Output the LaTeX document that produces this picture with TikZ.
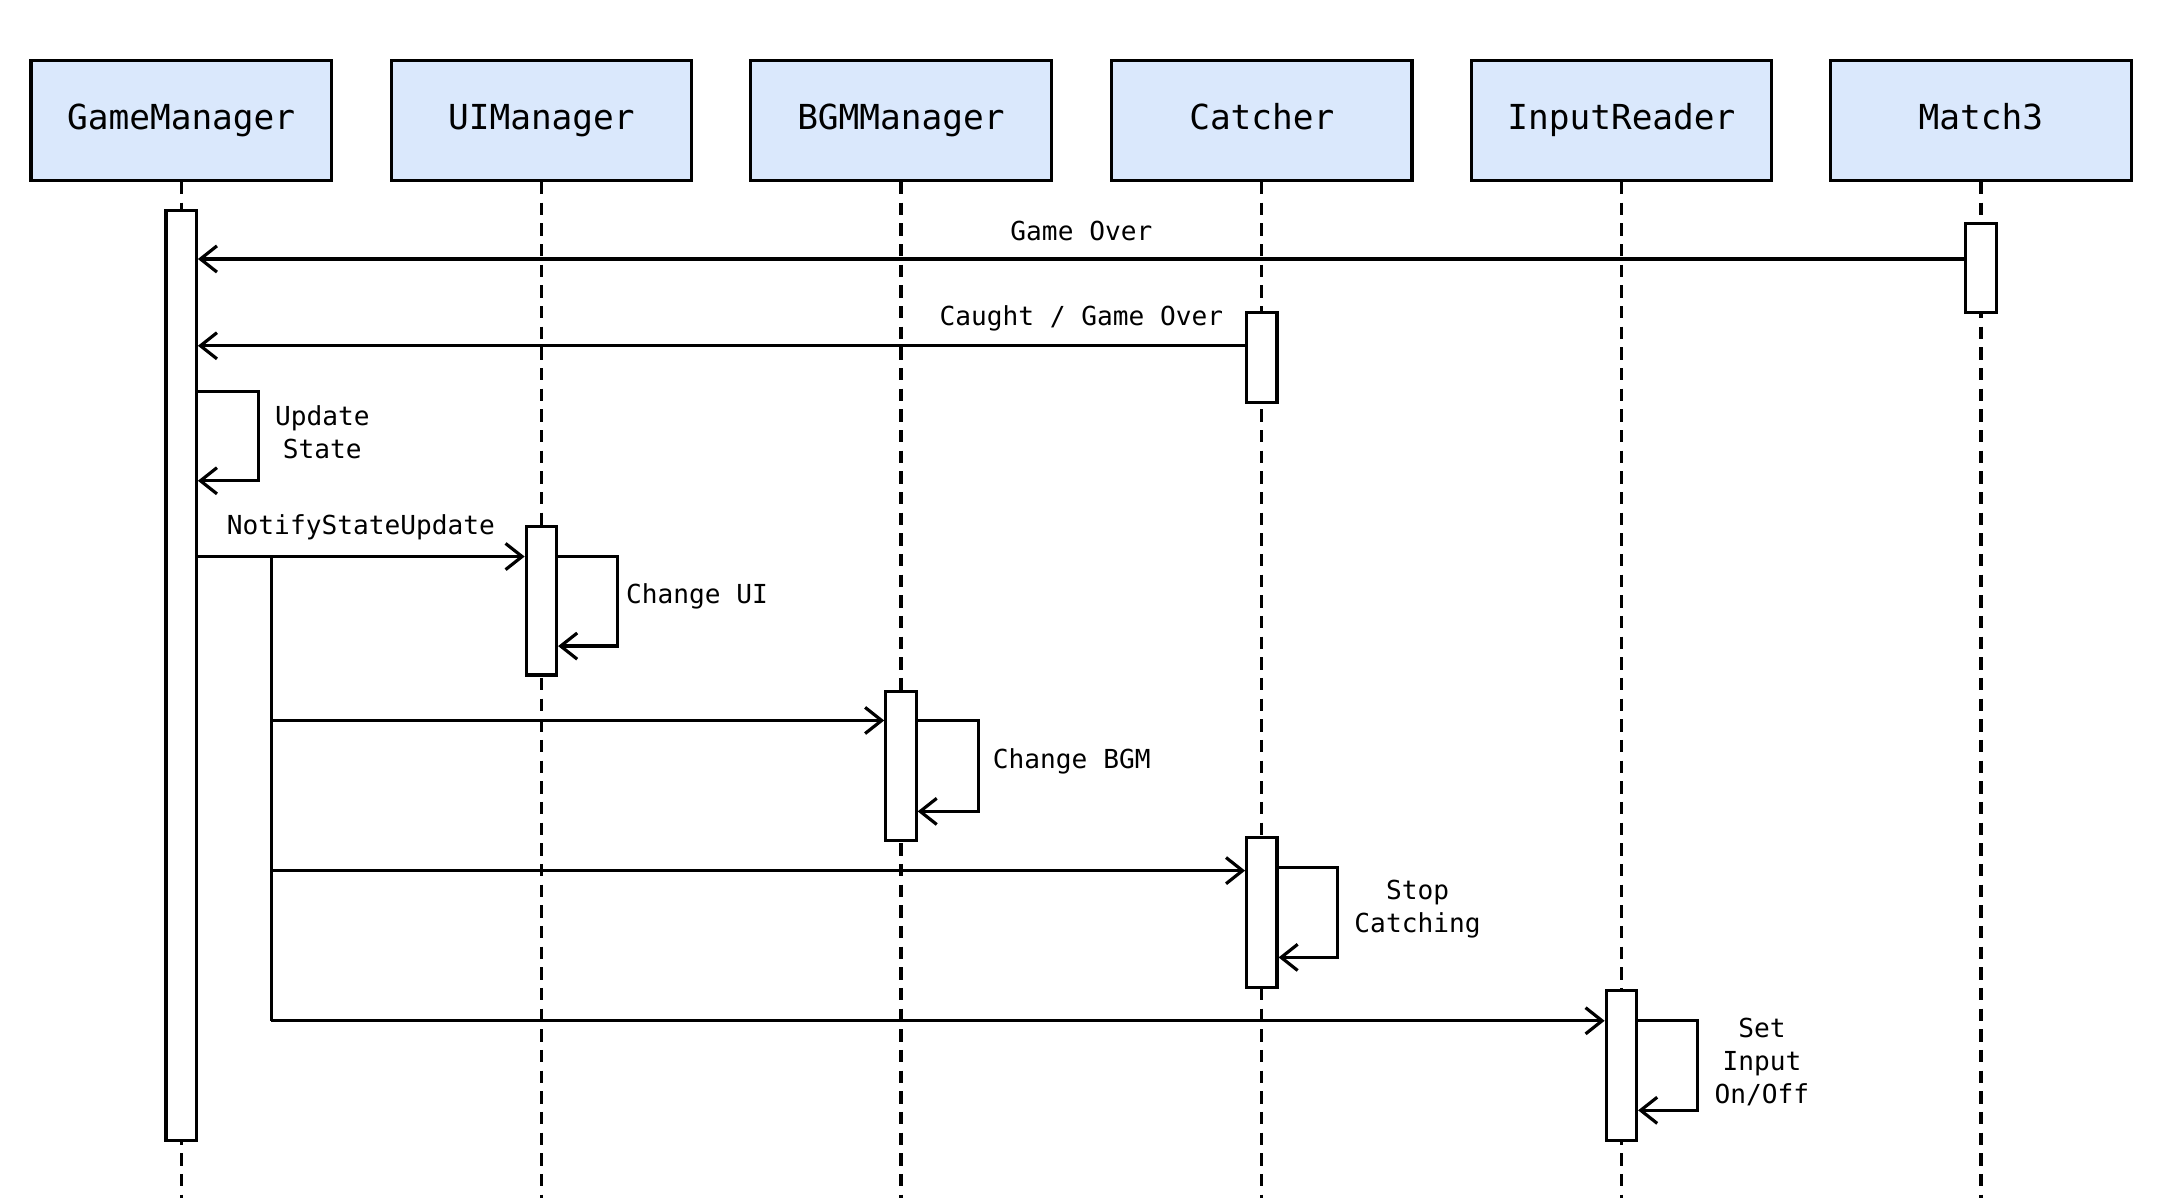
\documentclass[tikz,border=0pt]{standalone}
\usepackage{fontspec}
\setmonofont{DejaVu Sans Mono}
\usetikzlibrary{arrows.meta}
\definecolor{hdrfill}{HTML}{DAE8FC}
\tikzset{
  hdr/.style={draw=black, fill=hdrfill, line width=2.3pt, minimum width=218pt, minimum height=87pt, inner sep=0pt, text height=18pt, text depth=5pt, font=\ttfamily\fontsize{25}{30}\selectfont},
  act/.style={draw=black, fill=white, line width=2.3pt, minimum width=22pt, inner sep=0pt},
  life/.style={line width=2.3pt, dash pattern=on 9pt off 6pt},
  msg/.style={line width=2.3pt, -{Straight Barb[length=12pt, width=19pt, line width=2.3pt]}},
  plain/.style={line width=2.3pt},
  lbl/.style={font=\ttfamily\fontsize{19}{24}\selectfont, align=center, inner sep=0pt}
}
\begin{document}
\begin{tikzpicture}[x=1pt, y=-1pt]
\useasboundingbox (0,0) rectangle (1568,873);
% headers
\node[hdr] (gm) at (131.5,87.5) {GameManager};
\node[hdr] (ui) at (393,87.5) {UIManager};
\node[hdr] (bgm) at (654,87.5) {BGMManager};
\node[hdr] (ca) at (916,87.5) {Catcher};
\node[hdr] (ir) at (1177,87.5) {InputReader};
\node[hdr] (m3) at (1438,87.5) {Match3};
% lifeline ends
\coordinate (gmE) at (131.5,870);
\coordinate (uiE) at (393,870);
\coordinate (bgmE) at (654,870);
\coordinate (caE) at (916,870);
\coordinate (irE) at (1177,870);
\coordinate (m3E) at (1438,870);
\draw[life] (gm.south) -- (gmE);
\draw[life] (ui.south) -- (uiE);
\draw[life] (bgm.south) -- (bgmE);
\draw[life] (ca.south) -- (caE);
\draw[life] (ir.south) -- (irE);
\draw[life] (m3.south) -- (m3E);
% activations
\node[act, minimum height=675pt] (gmA) at (131.5,490.5) {};
\node[act, minimum height=65pt] (m3A) at (1438,194.5) {};
\node[act, minimum height=65pt] (caA1) at (916,259.5) {};
\node[act, minimum height=108pt] (uiA) at (393,436) {};
\node[act, minimum height=108pt] (bgmA) at (654,556) {};
\node[act, minimum height=109pt] (caA2) at (916,662.5) {};
\node[act, minimum height=109pt] (irA) at (1177,773.5) {};
% Game Over
\draw[msg] (m3A.west |- 0,188) -- (gmA.east |- 0,188);
\node[lbl] (t1) at (785,168) {Game Over};
% Caught / Game Over
\draw[msg] (caA1.west |- 0,251) -- (gmA.east |- 0,251);
\node[lbl] (t2) at (785,231) {Caught / Game Over};
% Update State self loop
\draw[msg] (gmA.east |- 0,284) -- ++(44,0) -- ++(0,65) -- (gmA.east |- 0,349);
\node[lbl] (t3) at (234,314) {Update\\State};
% NotifyStateUpdate
\draw[msg] (gmA.east |- 0,404) -- (uiA.west |- 0,404);
\node[lbl] (t4) at (262,383) {NotifyStateUpdate};
\coordinate (br0) at (197,404);
\coordinate (br1) at (197,741);
\draw[plain] (br0) -- (br1);
\draw[msg] (uiA.east |- 0,404) -- ++(43,0) -- ++(0,65) -- (uiA.east |- 0,469);
\node[lbl] (t5) at (506,433) {Change UI};
% BGM
\draw[msg] (br0 |- 0,523) -- (bgmA.west |- 0,523);
\draw[msg] (bgmA.east |- 0,523) -- ++(44,0) -- ++(0,66) -- (bgmA.east |- 0,589);
\node[lbl] (t6) at (778,553) {Change BGM};
% Catcher
\draw[msg] (br0 |- 0,632) -- (caA2.west |- 0,632);
\draw[msg] (caA2.east |- 0,630) -- ++(43,0) -- ++(0,65) -- (caA2.east |- 0,695);
\node[lbl] (t7) at (1029,660) {Stop\\Catching};
% InputReader
\draw[msg] (br1) -- (irA.west |- 0,741);
\draw[msg] (irA.east |- 0,741) -- ++(43,0) -- ++(0,65) -- (irA.east |- 0,806);
\node[lbl] (t8) at (1279,771) {Set\\Input\\On/Off};
\end{tikzpicture}
\end{document}
